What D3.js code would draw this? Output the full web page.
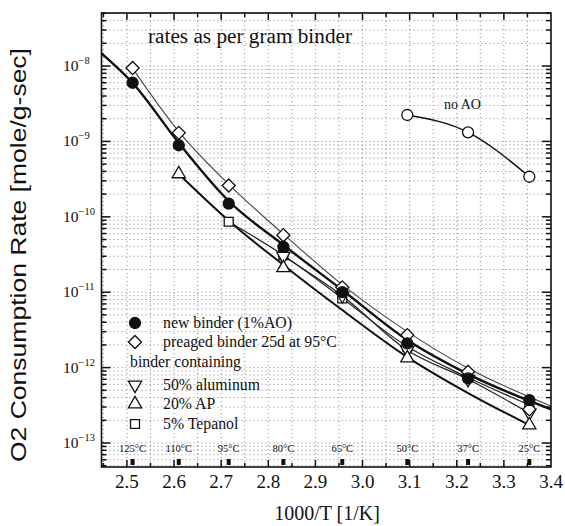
<!DOCTYPE html>
<html>
<head>
<meta charset="utf-8">
<script src="https://cdn.jsdelivr.net/npm/d3@7"></script>
<style>
  body { margin: 0; background: #fff; }
  svg { display: block; }
  .serif { font-family: "Liberation Serif", "Times New Roman", serif; fill: #111; }
</style>
</head>
<body>
<div id="chart"></div>
<script>
// Temperatures of the runs (x position = 1000/T)
const tempX = [2.512, 2.610, 2.716, 2.832, 2.957, 3.095, 3.224, 3.354];
const tempLabels = ["125°C", "110°C", "95°C", "80°C", "65°C", "50°C", "37°C", "25°C"];

// Measured rates (mole/g-sec)
const newBinder = [6.0e-9, 8.9e-10, 1.5e-10, 4.0e-11, 1.0e-11, 2.1e-12, 7.2e-13, 3.7e-13];
const preaged = [9.4e-9, 1.3e-9, 2.6e-10, 5.7e-11, 1.16e-11, 2.7e-12, 8.8e-13, 2.8e-13];
const apX = [2.610, 2.832, 3.095, 3.354];
const ap20 = [3.7e-10, 2.1e-11, 1.34e-12, 1.73e-13];
const alumX = [2.832, 2.957, 3.095, 3.224, 3.354];
const alum50 = [3.0e-11, 9.0e-12, 1.7e-12, 7.0e-13, 2.5e-13];
const tepX = [2.716, 2.832, 2.957, 3.095, 3.224, 3.354];
const tepanol = [8.6e-11, 3.1e-11, 8.3e-12, 1.9e-12, 7.4e-13, 3.2e-13];
const noAOX = [3.095, 3.224, 3.354];
const noAO = [2.24e-9, 1.32e-9, 3.4e-10];

// Fit curves
const fitNewX = [2.446, 2.512, 2.610, 2.716, 2.832, 2.957, 3.095, 3.224, 3.4];
const fitNew = [1.47e-8, 5.96e-9, 9.55e-10, 1.62e-10, 4.23e-11, 1.07e-11, 2.32e-12, 8.2e-13, 2.8e-13];
const fitPreX = [2.512, 2.610, 2.716, 2.832, 2.957, 3.095, 3.224, 3.4];
const fitPre = [9.3e-9, 1.35e-9, 2.7e-10, 5.9e-11, 1.26e-11, 3.0e-12, 9.8e-13, 3.1e-13];
const fitAPX = [2.610, 2.716, 2.832, 2.957, 3.095, 3.224, 3.354];
const fitAP = [3.7e-10, 8.9e-11, 2.3e-11, 5.8e-12, 1.38e-12, 4.6e-13, 1.73e-13];

const xTicks = [2.5, 2.6, 2.7, 2.8, 2.9, 3.0, 3.1, 3.2, 3.3, 3.4];
const yExponents = [-8, -9, -10, -11, -12, -13];

const W = 565, H = 526;
const m = { left: 101.5, right: 14, top: 13, bottom: 59 };

const svg = d3.select('#chart').append('svg')
    .attr('width', W).attr('height', H);

const x = d3.scaleLinear().domain([2.446, 3.4]).range([m.left, W - m.right]);
const y = d3.scaleLog().domain([Math.pow(10, -13.318), Math.pow(10, -7.297)]).range([H - m.bottom, m.top]);

const x0 = x.range()[0], x1 = x.range()[1];
const y0 = y.range()[0], y1 = y.range()[1];

// clip for lines
svg.append('clipPath').attr('id', 'clip')
  .append('rect').attr('x', x0).attr('y', y1).attr('width', x1 - x0).attr('height', y0 - y1);

// grid
const minorY = [];
for (let e = -14; e <= -7; e++) {
    for (let k = 1; k <= 9; k++) {
        const v = k * Math.pow(10, e);
        if (v >= y.domain()[0] && v <= y.domain()[1]) minorY.push({ v, major: k === 1 });
    }
}
const gridX = d3.range(2.45, 3.4, 0.05);
const grid = svg.append('g');
grid.selectAll('line.gx').data(gridX).join('line')
    .attr('x1', d => x(d)).attr('x2', d => x(d))
    .attr('y1', y1).attr('y2', y0)
    .attr('stroke', '#8a8a8a').attr('stroke-width', 1)
    .attr('stroke-dasharray', '1,3');
grid.selectAll('line.gy').data(minorY).join('line')
    .attr('x1', x0).attr('x2', x1)
    .attr('y1', d => y(d.v)).attr('y2', d => y(d.v))
    .attr('stroke', '#8a8a8a').attr('stroke-width', 1)
    .attr('stroke-dasharray', '1,3');

// ticks on all four sides (inward)
const ticks = svg.append('g').attr('stroke', '#111');
minorY.forEach(d => {
    const len = d.major ? 9 : 5;
    ticks.append('line').attr('x1', x0).attr('x2', x0 + len)
        .attr('y1', y(d.v)).attr('y2', y(d.v)).attr('stroke-width', 1.5);
    ticks.append('line').attr('x1', x1).attr('x2', x1 - len)
        .attr('y1', y(d.v)).attr('y2', y(d.v)).attr('stroke-width', 1.5);
});
gridX.forEach((d, i) => {
    const len = i % 2 === 1 ? 7 : 4;
    ticks.append('line').attr('x1', x(d)).attr('x2', x(d))
        .attr('y1', y1).attr('y2', y1 + len).attr('stroke-width', 1.5);
    ticks.append('line').attr('x1', x(d)).attr('x2', x(d))
        .attr('y1', y0).attr('y2', y0 - len).attr('stroke-width', 1.5);
});

// frame
svg.append('rect').attr('x', x0).attr('y', y1)
    .attr('width', x1 - x0).attr('height', y0 - y1)
    .attr('fill', 'none').attr('stroke', '#111').attr('stroke-width', 1.6);

// temperature labels and markers near the bottom
svg.selectAll('text.temp').data(tempX).join('text')
    .attr('class', 'serif')
    .attr('x', d => x(d)).attr('y', 452)
    .attr('text-anchor', 'middle')
    .attr('font-size', 10.5)
    .text((d, i) => tempLabels[i]);
svg.selectAll('rect.tmark').data(tempX).join('rect')
    .attr('x', d => x(d) - 2).attr('y', 459)
    .attr('width', 4).attr('height', 6)
    .attr('fill', '#111');

// lines
const line = d3.line()
    .x(d => x(d[0])).y(d => y(d[1]))
    .curve(d3.curveMonotoneX);
const zip = (xs, ys) => xs.map((v, i) => [v, ys[i]]);
const lines = svg.append('g').attr('clip-path', 'url(#clip)').attr('fill', 'none');
lines.append('path').attr('d', line(zip(fitPreX, fitPre)))
    .attr('stroke', '#444').attr('stroke-width', 1.1);
lines.append('path').attr('d', line(zip(tepX, tepanol)))
    .attr('stroke', '#222').attr('stroke-width', 1.2);
lines.append('path').attr('d', line(zip(alumX, alum50)))
    .attr('stroke', '#222').attr('stroke-width', 1.2);
lines.append('path').attr('d', line(zip(fitAPX, fitAP)))
    .attr('stroke', '#111').attr('stroke-width', 2);
lines.append('path').attr('d', line(zip(fitNewX, fitNew)))
    .attr('stroke', '#111').attr('stroke-width', 2.4);
lines.append('path').attr('d', line(zip(noAOX, noAO)))
    .attr('stroke', '#111').attr('stroke-width', 1.4);

// markers
const sym = {
    circle: d3.symbol(d3.symbolCircle, 95)(),
    diamond: d3.symbol(d3.symbolSquare, 85)(),
    tri: d3.symbol(d3.symbolTriangle, 75)(),
    square: d3.symbol(d3.symbolSquare, 80)()
};
function drawMarkers(xs, ys, kind, filled) {
    svg.append('g').selectAll('path').data(zip(xs, ys)).join('path')
        .attr('d', kind === 'triDown' || kind === 'triUp' ? sym.tri : sym[kind])
        .attr('transform', d => {
            let t = `translate(${x(d[0])},${y(d[1])})`;
            if (kind === 'diamond') t += ' rotate(45)';
            if (kind === 'triDown') t += ' rotate(180)';
            return t;
        })
        .attr('fill', filled ? '#111' : '#fff')
        .attr('stroke', '#111').attr('stroke-width', 1.3);
}
drawMarkers(tepX, tepanol, 'square', false);
drawMarkers(alumX, alum50, 'triDown', false);
drawMarkers(apX, ap20, 'triUp', false);
drawMarkers(tempX, preaged, 'diamond', false);
drawMarkers(tempX, newBinder, 'circle', true);
drawMarkers(noAOX, noAO, 'circle', false);

// annotations
svg.append('text').attr('class', 'serif')
    .attr('x', 148).attr('y', 43).attr('font-size', 20)
    .attr('textLength', 204).attr('lengthAdjust', 'spacingAndGlyphs')
    .text('rates as per gram binder');
svg.append('text').attr('class', 'serif')
    .attr('x', 444).attr('y', 109).attr('font-size', 14)
    .text('no AO');

// legend
const legendItems = [
    { kind: 'circle', filled: true, label: 'new binder (1%AO)', y: 323 },
    { kind: 'diamond', filled: false, label: 'preaged binder 25d at 95°C', y: 342 },
    { kind: null, label: 'binder containing', y: 362 },
    { kind: 'triDown', filled: false, label: '50% aluminum', y: 385 },
    { kind: 'triUp', filled: false, label: '20% AP', y: 404 },
    { kind: 'square', filled: false, label: '5% Tepanol', y: 424 }
];
const lg = svg.append('g');
legendItems.forEach(it => {
    if (it.kind) {
        let t = `translate(135,${it.y})`;
        if (it.kind === 'diamond') t += ' rotate(45)';
        if (it.kind === 'triDown') t += ' rotate(180)';
        lg.append('path')
            .attr('d', it.kind === 'triDown' || it.kind === 'triUp' ? sym.tri : sym[it.kind])
            .attr('transform', t)
            .attr('fill', it.filled ? '#111' : '#fff')
            .attr('stroke', '#111').attr('stroke-width', 1.3);
    }
    lg.append('text').attr('class', 'serif')
        .attr('x', it.kind ? 163 : 130).attr('y', it.y + 5)
        .attr('font-size', 15.8)
        .text(it.label);
});

// y tick labels
const yl = svg.append('g');
yExponents.forEach(e => {
    const t = yl.append('text').attr('class', 'serif')
        .attr('x', 63).attr('y', y(Math.pow(10, e)) + 5)
        .attr('font-size', 15.5);
    t.append('tspan').text('10');
    t.append('tspan').attr('dy', -7).attr('font-size', 10.5).text('\u2212' + Math.abs(e));
});

// x tick labels
svg.append('g').selectAll('text').data(xTicks).join('text')
    .attr('class', 'serif')
    .attr('x', d => x(d)).attr('y', 488)
    .attr('text-anchor', 'middle')
    .attr('font-size', 19)
    .text(d => d.toFixed(1));

// axis titles
svg.append('text').attr('class', 'serif')
    .attr('x', 327).attr('y', 520)
    .attr('text-anchor', 'middle').attr('font-size', 20)
    .text('1000/T [1/K]');
svg.append('text')
    .attr('transform', 'translate(26,255) rotate(-90)')
    .attr('text-anchor', 'middle')
    .attr('font-family', '"Liberation Sans", Arial, sans-serif')
    .attr('font-size', 22)
    .attr('textLength', 414).attr('lengthAdjust', 'spacingAndGlyphs')
    .attr('fill', '#111')
    .text('O2 Consumption Rate [mole/g-sec]');
</script>
</body>
</html>
